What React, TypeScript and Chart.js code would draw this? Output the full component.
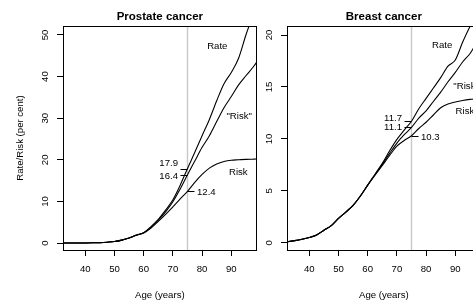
import React, { useEffect, useRef } from "react";
import { Chart, registerables } from "chart.js";

Chart.register(...registerables);

// ---------- data ----------
const ages = [30, 32.5, 35, 37.5, 40, 42.5, 45, 47.5, 50, 52.5, 55, 57.5, 60, 62.5, 65, 67.5, 70, 72.5, 75, 77.5, 80, 82.5, 85, 87.5, 90, 92.5, 95, 97.5, 100];

const prostateRate = [0, 0, 0, 0.01, 0.02, 0.05, 0.1, 0.2, 0.35, 0.7, 1.2, 1.9, 2.5, 3.95, 5.7, 7.9, 10.4, 13.9, 17.9, 21.8, 25.8, 29.7, 34.2, 38.3, 41.0, 44.4, 50.0, 55.0, 61.0];
const prostateRiskQ = [0, 0, 0, 0.01, 0.02, 0.05, 0.1, 0.2, 0.35, 0.7, 1.2, 1.9, 2.45, 3.8, 5.5, 7.5, 9.9, 13.0, 16.4, 19.7, 23.0, 25.8, 29.2, 32.5, 35.2, 38.0, 40.2, 42.3, 44.8];
const prostateRisk = [0, 0, 0, 0.01, 0.02, 0.05, 0.1, 0.2, 0.35, 0.7, 1.2, 1.85, 2.4, 3.6, 5.2, 6.9, 8.7, 10.6, 12.4, 14.6, 16.5, 18.0, 19.0, 19.6, 19.9, 20.0, 20.1, 20.15, 20.2];

const breastRate = [0.02, 0.1, 0.2, 0.33, 0.5, 0.75, 1.2, 1.65, 2.35, 2.95, 3.6, 4.5, 5.55, 6.6, 7.65, 8.85, 9.95, 10.85, 11.7, 12.9, 13.9, 14.9, 15.9, 17.0, 17.6, 19.3, 20.8, 22.0, 23.2];
const breastRiskQ = [0.02, 0.1, 0.2, 0.33, 0.5, 0.75, 1.2, 1.65, 2.35, 2.95, 3.6, 4.5, 5.55, 6.55, 7.55, 8.6, 9.6, 10.4, 11.1, 12.0, 12.7, 13.6, 14.5, 15.5, 16.4, 17.4, 18.2, 19.3, 20.0];
const breastRisk = [0.02, 0.1, 0.2, 0.33, 0.5, 0.75, 1.2, 1.65, 2.35, 2.95, 3.6, 4.5, 5.55, 6.5, 7.45, 8.4, 9.3, 9.85, 10.3, 11.0, 11.6, 12.3, 13.0, 13.35, 13.55, 13.7, 13.8, 13.85, 13.9];

const refAge = 75;
const xTicks = [40, 50, 60, 70, 80, 90];
const prostateYTicks = [0, 10, 20, 30, 40, 50];
const breastYTicks = [0, 5, 10, 15, 20];

const prostateMarks = [17.9, 16.4, 12.4];
const breastMarks = [11.7, 11.1, 10.3];

const curveNames = ["Rate", "\"Risk\"", "Risk"];

// ---------- layout / style config ----------
const FONT = "'Liberation Sans', Arial, Helvetica, sans-serif";
const FS = 9.6;

type Panel = {
  title: string;
  series: number[][];
  yTicks: number[];
  yMin: number;
  yMax: number;
  yTitle: string | null;
  marks: number[];
  markSide: ("left" | "right")[];
  markDy: number[];
  labelPos: [number, number][];
};

const panels: Panel[] = [
  {
    title: "Prostate cancer",
    series: [prostateRate, prostateRiskQ, prostateRisk],
    yTicks: prostateYTicks,
    yMin: -1.68,
    yMax: 52.16,
    yTitle: "Rate/Risk (per cent)",
    marks: prostateMarks,
    markSide: ["left", "left", "right"],
    markDy: [-5.8, 0.5, 0.8],
    labelPos: [[85.2, 47.2], [92.7, 30.4], [92.4, 17.1]],
  },
  {
    title: "Breast cancer",
    series: [breastRate, breastRiskQ, breastRisk],
    yTicks: breastYTicks,
    yMin: -0.7,
    yMax: 20.87,
    yTitle: null,
    marks: breastMarks,
    markSide: ["left", "left", "right"],
    markDy: [-3.6, 0, 1.2],
    labelPos: [[85.5, 19.04], [93.7, 15.09], [93.3, 12.68]],
  },
];

const decor = (panel: Panel) => ({
  id: "decor",
  afterDatasetsDraw(chart: any) {
    const { ctx, chartArea } = chart;
    const xs = chart.scales.x;
    const ys = chart.scales.y;
    ctx.save();
    // box
    ctx.strokeStyle = "#000";
    ctx.lineWidth = 1;
    const l = Math.floor(chartArea.left) + 0.5;
    const t = Math.floor(chartArea.top) + 0.5;
    const r = Math.floor(chartArea.right) + 0.5;
    const b = Math.floor(chartArea.bottom) + 0.5;
    ctx.strokeRect(l, t, r - l, b - t);

    // title
    ctx.fillStyle = "#000";
    ctx.font = `bold 11.5px ${FONT}`;
    ctx.textAlign = "center";
    ctx.textBaseline = "middle";
    ctx.fillText(panel.title, (chartArea.left + chartArea.right) / 2, 17);

    // y tick labels (rotated, R style)
    ctx.font = `${FS}px ${FONT}`;
    ys.ticks.forEach((tk: any) => {
      const py = ys.getPixelForValue(tk.value);
      ctx.save();
      ctx.translate(chartArea.left - 18, py);
      ctx.rotate(-Math.PI / 2);
      ctx.textAlign = "center";
      ctx.textBaseline = "middle";
      ctx.fillText(String(tk.value), 0, 0);
      ctx.restore();
    });

    // marks at reference age
    const px = xs.getPixelForValue(refAge);
    panel.marks.forEach((v, i) => {
      const py = Math.round(ys.getPixelForValue(v)) + 0.5;
      const side = panel.markSide[i];
      ctx.beginPath();
      if (side === "left") {
        ctx.moveTo(px - 7, py);
        ctx.lineTo(px, py);
      } else {
        ctx.moveTo(px, py);
        ctx.lineTo(px + 7, py);
      }
      ctx.stroke();
      ctx.textAlign = side === "left" ? "right" : "left";
      ctx.textBaseline = "middle";
      const tx = side === "left" ? px - 9.5 : px + 9.5;
      ctx.fillText(v.toFixed(1), tx, py + panel.markDy[i]);
    });

    // curve labels
    ctx.textAlign = "center";
    ctx.textBaseline = "middle";
    curveNames.forEach((name, i) => {
      const [a, v] = panel.labelPos[i];
      ctx.fillText(name, xs.getPixelForValue(a), ys.getPixelForValue(v));
    });
    ctx.restore();
  },
});

function makeChart(canvas: HTMLCanvasElement, panel: Panel) {
  const datasets: any[] = panel.series.map((s) => ({
    data: ages.map((a, i) => ({ x: a, y: s[i] })),
    borderColor: "#000",
    borderWidth: 1.1,
    pointRadius: 0,
    cubicInterpolationMode: "monotone",
    fill: false,
    clip: 0,
  }));
  datasets.push({
    data: [
      { x: refAge, y: panel.yMin },
      { x: refAge, y: panel.yMax },
    ],
    borderColor: "#c8c8c8",
    borderWidth: 1.4,
    pointRadius: 0,
    fill: false,
    clip: 0,
  });
  return new Chart(canvas, {
    type: "line",
    data: { datasets },
    options: {
      responsive: false,
      animation: false,
      devicePixelRatio: 1,
      layout: { padding: { top: 26, right: 3.3, left: 0, bottom: 0 } },
      plugins: { legend: { display: false }, tooltip: { enabled: false }, title: { display: false } },
      scales: {
        x: {
          type: "linear",
          min: 32.36,
          max: 98.7,
          afterBuildTicks: (s: any) => {
            s.ticks = xTicks.map((v) => ({ value: v }));
          },
          afterFit: (s: any) => {
            s.height = 50;
          },
          grid: { drawOnChartArea: false, drawTicks: true, tickLength: 6, color: "#000", lineWidth: 1 },
          border: { display: false },
          ticks: {
            autoSkip: false,
            maxRotation: 0,
            minRotation: 0,
            padding: 7.5,
            color: "#000",
            font: { family: FONT, size: FS },
            callback: (v: any) => String(v),
          },
          title: {
            display: true,
            text: "Age (years)",
            color: "#000",
            font: { family: FONT, size: FS, lineHeight: 1 },
            padding: { top: 0, bottom: 0.3 },
          },
        },
        y: {
          type: "linear",
          min: panel.yMin,
          max: panel.yMax,
          afterBuildTicks: (s: any) => {
            s.ticks = panel.yTicks.map((v) => ({ value: v }));
          },
          afterFit: (s: any) => {
            s.width = 63;
          },
          grid: { drawOnChartArea: false, drawTicks: true, tickLength: 6, color: "#000", lineWidth: 1 },
          border: { display: false },
          ticks: { display: false },
          title: panel.yTitle
            ? {
                display: true,
                text: panel.yTitle,
                color: "#000",
                font: { family: FONT, size: FS, lineHeight: 1 },
                padding: { top: 15.2, bottom: 0 },
              }
            : { display: false },
        },
      },
    } as any,
    plugins: [decor(panel)],
  });
}

function Panel({ panel, left }: { panel: Panel; left: number }) {
  const ref = useRef<HTMLCanvasElement | null>(null);
  useEffect(() => {
    if (!ref.current) return;
    const chart = makeChart(ref.current, panel);
    return () => chart.destroy();
  }, [panel]);
  return (
    <canvas
      ref={ref}
      width={260}
      height={300}
      style={{ position: "absolute", left, top: 0, width: 260, height: 300, display: "block" }}
    />
  );
}

export default function App() {
  return (
    <div
      style={{
        position: "fixed",
        left: 0,
        top: 0,
        width: 473,
        height: 300,
        overflow: "hidden",
        background: "#fff",
      }}
    >
      <Panel panel={panels[0]} left={0} />
      <Panel panel={panels[1]} left={224} />
    </div>
  );
}
